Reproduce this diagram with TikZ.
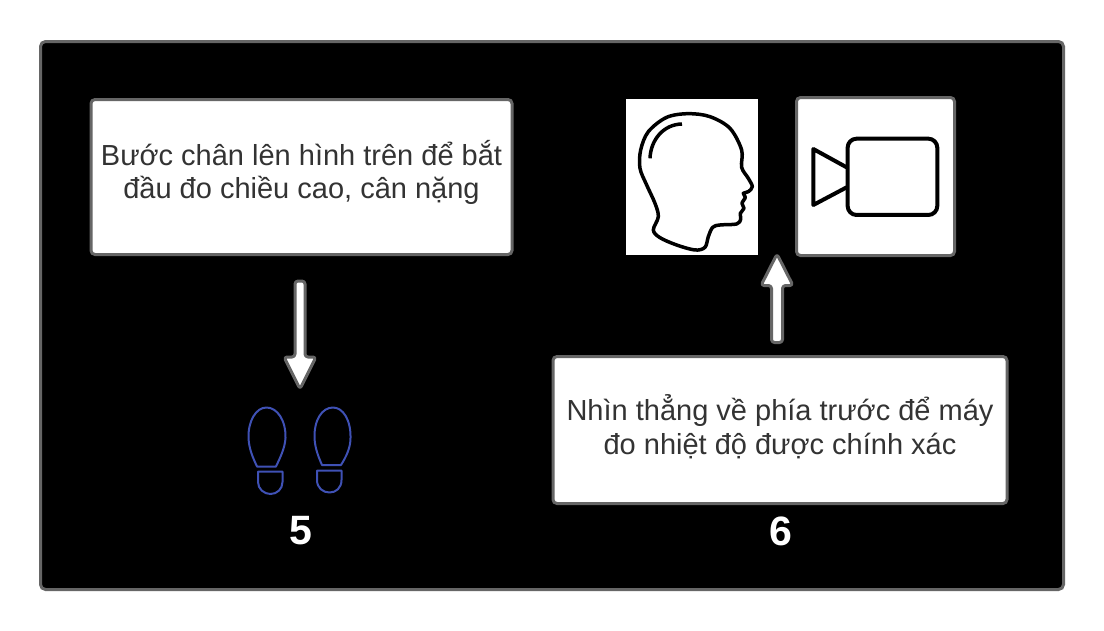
\documentclass[tikz,border=0pt]{standalone}
\usepackage{fontspec}
\setmainfont{Liberation Sans}
\definecolor{edgegray}{HTML}{666666}
\definecolor{inkgray}{HTML}{333333}
\definecolor{footblue}{HTML}{3F51B5}
\tikzset{
  panel/.style={draw=edgegray,line width=3pt,fill=white,rounded corners=4pt,inner sep=0pt},
  panellabel/.style={text=inkgray,align=center,inner sep=0pt,font=\fontsize{29}{33.5}\selectfont},
  blockarrow/.style={draw=edgegray,line width=3pt,fill=white,line join=round,rounded corners=3pt},
  bignum/.style={text=white,font=\fontsize{41}{41}\selectfont\bfseries,inner sep=0pt},
  foot/.style={draw=footblue,line width=2pt,line join=round},
  icon/.style={draw=black,line width=4pt,line join=round,line cap=round}
}
\begin{document}
\begin{tikzpicture}[x=1pt,y=-1pt]
\useasboundingbox (0,0) rectangle (1104,630);
\fill[white] (0,0) rectangle (1104,630);
\node[draw=edgegray,line width=3pt,fill=black,rounded corners=5pt,minimum width=1023pt,minimum height=548pt,inner sep=0pt] (frame) at (552,315.5) {};
\node[panel,minimum width=421pt,minimum height=155pt] (boxa) at (301.5,177) {};
\node[panellabel] (labela) at (301.5,172.5) {Bước chân lên hình trên để bắt\\đầu đo chiều cao, cân nặng};
\node[panel,minimum width=454pt,minimum height=147pt] (boxb) at (780,430) {};
\node[panellabel] (labelb) at (780,426.5) {Nhìn thẳng về phía trước để máy\\đo nhiệt độ được chính xác};
\node[panel,minimum width=158pt,minimum height=158pt] (cambox) at (875.5,176.5) {};
\node[fill=white,inner sep=0pt,minimum width=132pt,minimum height=156pt] (headbox) at (691.7,177) {};
\node[bignum] (five) at (300.5,531) {5};
\node[bignum] (six) at (780.5,531) {6};
% arrows
\draw[blockarrow] (295,357) -- (295,281) -- (305,281) -- (305,357) -- (316,357) -- (300,389) -- (284,357) -- cycle;
\draw[blockarrow] (771.5,285.5) -- (771.5,342.5) -- (782.5,342.5) -- (782.5,285.5) -- (793,285.5) -- (777,254) -- (761,285.5) -- cycle;
% feet
\draw[foot] (257,466.5) -- (276,466.5) .. controls (280,458) and (285,448) .. (285.5,438) .. controls (286,420) and (277,407.5) .. (266.5,407.5) .. controls (256,407.5) and (248,421) .. (248.5,438) .. controls (249,449) and (253,458) .. cycle;
\draw[foot] (258,471.5) -- (282.5,471.5) -- (282.5,482) .. controls (282.5,489) and (277,494) .. (270.5,494) .. controls (264,494) and (258,489) .. (258,482) -- cycle;
\draw[foot] (322,465) -- (341,465) .. controls (346,457) and (350.5,448) .. (350.5,438) .. controls (351,420) and (343,407.5) .. (333,407.5) .. controls (322,407.5) and (314,420) .. (314.5,438) .. controls (315,449) and (319,458) .. cycle;
\draw[foot] (317,470.5) -- (341.5,470.5) -- (341.5,480) .. controls (341.5,488) and (336,492.5) .. (329.5,492.5) .. controls (323,492.5) and (317,488) .. (317,480) -- cycle;
% head
\begin{scope}[shift={(620,90)},x=0.3333pt,y=-0.3333pt]
\draw[icon,line width=3.5pt] plot[smooth cycle,tension=0.55] coordinates {
 (100,420) (115,380) (105,340) (80,285) (60,235) (62,180) (85,125) (140,82) (205,71) (270,80) (330,115) (365,180) (365,232) (385,265) (397,290) (385,305) (370,310) (376,322) (366,340) (372,355) (361,370) (362,388) (350,402) (300,405) (278,412) (265,440) (255,472) (225,480) (170,465) (120,443)};
\draw[icon,line width=3.5pt,line cap=butt] (90,205) .. controls (92,150) and (130,103) .. (186,102);
% camera
\draw[icon,line cap=butt,rounded corners=9pt] (683,146) rectangle (952,375);
\draw[icon,line cap=butt] (680,232) -- (580,177) -- (580,345) -- (680,292);
\end{scope}
\end{tikzpicture}
\end{document}
